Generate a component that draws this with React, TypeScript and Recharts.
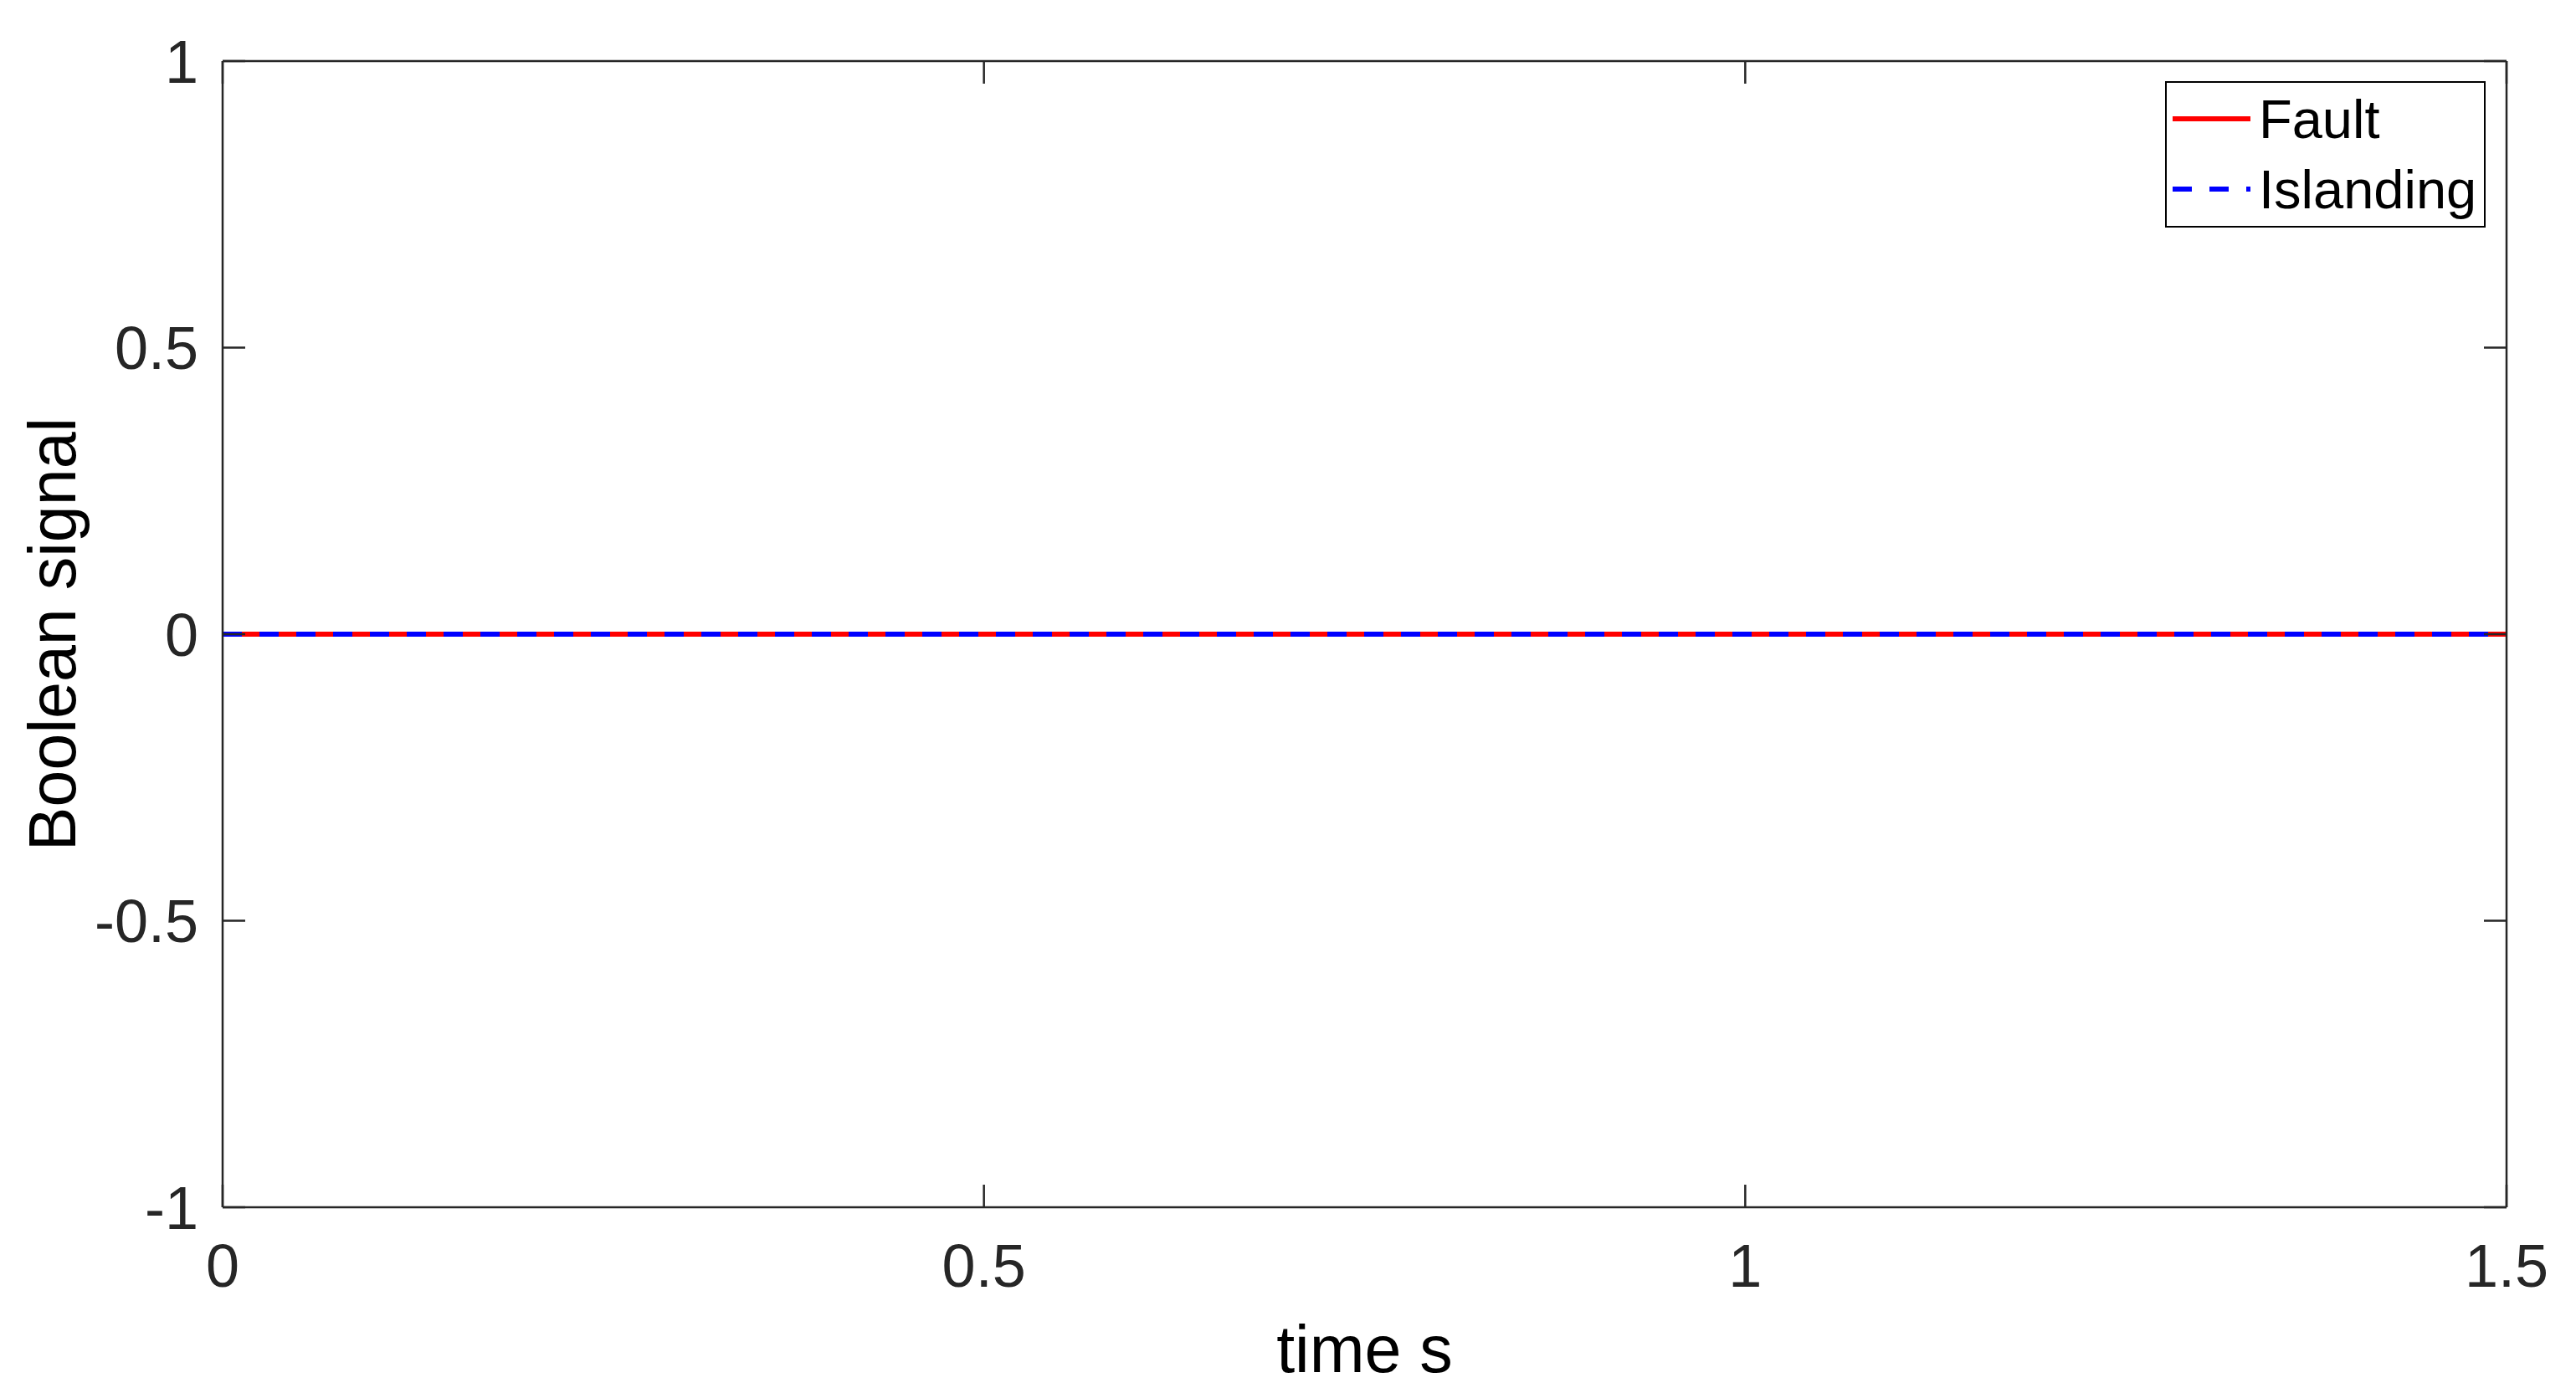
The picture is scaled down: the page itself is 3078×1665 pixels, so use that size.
import React from 'react';
import { LineChart, Line, XAxis, YAxis, Legend, Label } from 'recharts';

const timeS = [0, 1.5];
const faultSignal = [0, 0];
const islandingSignal = [0, 0];
const xTicks = [0, 0.5, 1, 1.5];
const yTicks = [-1, -0.5, 0, 0.5, 1];

const data = timeS.map((t, i) => ({ t, fault: faultSignal[i], islanding: islandingSignal[i] }));

const FONT = '"Liberation Sans", Arial, Helvetica, sans-serif';
const AXIS = '#262626';
const TICK_LEN = -27;

// empty tick: keeps the inward tick marks on the mirrored top/right axes
const NoLabel = () => <g />;

const LegendBox = ({ payload }: any) => (
  <div
    style={{
      width: 383,
      height: 175,
      boxSizing: 'border-box',
      border: '2.5px solid #000',
      background: '#fff',
      fontFamily: FONT,
      fontSize: 65,
      color: '#000',
    }}
  >
    {(payload || []).map((entry: any, i: number) => (
      <div
        key={entry.value}
        style={{ display: 'flex', alignItems: 'center', height: 84, marginTop: i === 0 ? 1 : 0 }}
      >
        <svg width={110} height={20} style={{ flex: 'none' }}>
          <line
            x1={7}
            x2={100}
            y1={10}
            y2={10}
            stroke={entry.color}
            strokeWidth={6}
            strokeDasharray={entry.payload?.strokeDasharray}
          />
        </svg>
        <span style={{ lineHeight: 1 }}>{entry.value}</span>
      </div>
    ))}
  </div>
);

const App: React.FC = () => {
  return (
    <div style={{ position: 'absolute', left: 0, top: 0, background: '#fff' }}>
      <LineChart width={3078} height={1665} data={data} margin={{ top: 72, right: 82, bottom: 0, left: 0 }}>
        <XAxis
          dataKey="t"
          type="number"
          domain={[0, 1.5]}
          ticks={xTicks}
          interval={0}
          allowDataOverflow
          height={222}
          axisLine={{ stroke: AXIS, strokeWidth: 2.5 }}
          tickLine={{ stroke: AXIS, strokeWidth: 2.5 }}
          tickSize={TICK_LEN}
          tickMargin={71}
          tick={{ fill: AXIS, fontSize: 72, fontFamily: FONT }}
        >
          <Label
            value="time s"
            position="insideBottom"
            offset={25}
            style={{ fill: '#000', fontSize: 79, fontFamily: FONT }}
          />
        </XAxis>
        <XAxis
          xAxisId="top"
          orientation="top"
          dataKey="t"
          type="number"
          domain={[0, 1.5]}
          ticks={xTicks}
          interval={0}
          allowDataOverflow
          height={1}
          axisLine={{ stroke: AXIS, strokeWidth: 2.5 }}
          tickLine={{ stroke: AXIS, strokeWidth: 2.5 }}
          tickSize={TICK_LEN}
          tick={NoLabel}
        />
        <YAxis
          type="number"
          domain={[-1, 1]}
          ticks={yTicks}
          interval={0}
          allowDataOverflow
          width={266}
          axisLine={{ stroke: AXIS, strokeWidth: 2.5 }}
          tickLine={{ stroke: AXIS, strokeWidth: 2.5 }}
          tickSize={TICK_LEN}
          tickMargin={56}
          tick={{ fill: AXIS, fontSize: 72, fontFamily: FONT }}
        >
          <Label
            content={(props: any) => {
              const vb = props.viewBox || { x: 0, y: 73, width: 266, height: 1370 };
              const cx = vb.x + 90;
              const cy = vb.y + vb.height / 2;
              return (
                <text
                  x={cx}
                  y={cy}
                  transform={`rotate(-90 ${cx} ${cy})`}
                  textAnchor="middle"
                  fill="#000"
                  fontSize={79}
                  fontFamily={FONT}
                >
                  Boolean signal
                </text>
              );
            }}
          />
        </YAxis>
        <YAxis
          yAxisId="right"
          orientation="right"
          type="number"
          domain={[-1, 1]}
          ticks={yTicks}
          interval={0}
          allowDataOverflow
          width={1}
          axisLine={{ stroke: AXIS, strokeWidth: 2.5 }}
          tickLine={{ stroke: AXIS, strokeWidth: 2.5 }}
          tickSize={TICK_LEN}
          tick={NoLabel}
        />
        <Legend
          layout="horizontal"
          verticalAlign="middle"
          align="center"
          content={<LegendBox />}
          wrapperStyle={{ top: 97, left: 2587, width: 383, height: 175 }}
        />
        <Line
          name="Fault"
          dataKey="fault"
          type="linear"
          stroke="#FF0000"
          strokeWidth={6}
          dot={false}
          activeDot={false}
          isAnimationActive={false}
        />
        <Line
          name="Islanding"
          dataKey="islanding"
          type="linear"
          stroke="#0000FF"
          strokeWidth={6}
          strokeDasharray="23 21"
          dot={false}
          activeDot={false}
          isAnimationActive={false}
        />
      </LineChart>
    </div>
  );
};

export default App;
